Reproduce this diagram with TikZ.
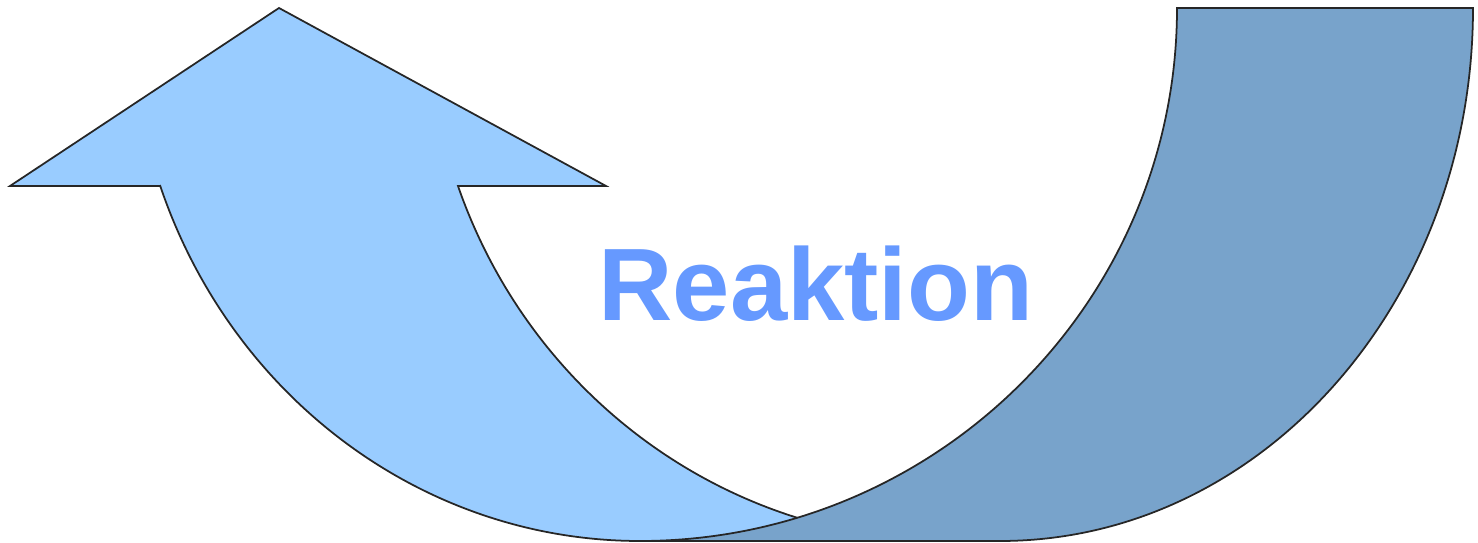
\documentclass[tikz,border=0pt]{standalone}
\usepackage{fontspec}
\setsansfont{Liberation Sans}
\usepackage{xcolor}
\usepackage{tikz}
\usetikzlibrary{positioning}

\definecolor{arrowlight}{HTML}{99CCFF}
\definecolor{arrowdark}{HTML}{78A3CB}
\definecolor{labelblue}{HTML}{6699FF}

\begin{document}
\begin{tikzpicture}[
    band/.style={draw=black!85, line width=0.5pt, line join=miter},
    label/.style={font=\sffamily\bfseries\fontsize{29.3}{31}\selectfont, text=labelblue, inner sep=0pt}
]
\useasboundingbox (0,0) rectangle (14.78,5.43);

% light part with the arrow head
\draw[band, fill=arrowlight] (1.60,3.57) -- (0.10,3.57) -- (2.79,5.35) -- (6.06,3.57) -- (4.58,3.57)
    arc[start angle=199.5, end angle=270, x radius=5.22, y radius=5.33]
    -- (6.40,0.02)
    arc[start angle=270, end angle=199.5, x radius=5.09, y radius=5.33] -- cycle;

% dark part on top
\draw[band, fill=arrowdark] (11.77,5.35) -- (14.73,5.35)
    arc[start angle=0, end angle=-90, x radius=4.73, y radius=5.33]
    -- (6.40,0.02)
    arc[start angle=-90, end angle=0, x radius=5.37, y radius=5.33] -- cycle;

\node[label, anchor=base] (reaktion) at (8.16,2.22) {Reaktion};
\end{tikzpicture}
\end{document}
